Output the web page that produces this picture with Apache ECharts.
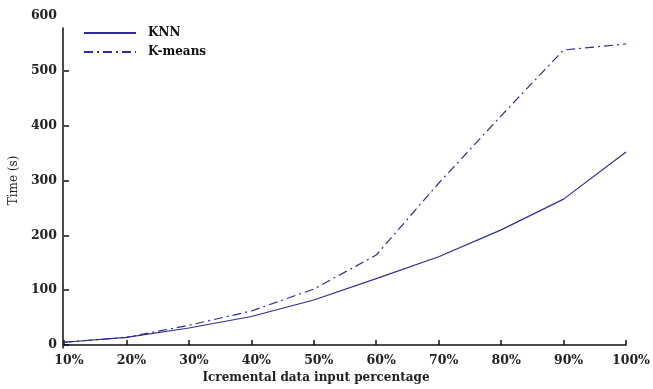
<!DOCTYPE html>
<html>
<head>
<meta charset="utf-8">
<script src="https://cdn.jsdelivr.net/npm/echarts@6/dist/echarts.min.js"></script>
<style>html,body{margin:0;padding:0;background:#fff}#c{width:653px;height:389px}</style>
</head>
<body>
<div id="c"></div>
<script>
const categories = ['10%','20%','30%','40%','50%','60%','70%','80%','90%','100%'];
const knn = [5, 14, 31, 52, 82, 121, 161, 210, 266, 352];
const kmeans = [5, 14, 36, 62, 102, 164, 295, 418, 538, 549];
const yTicks = [0, 100, 200, 300, 400, 500, 600];
const lineColor = '#2e2e96';
const font = 'DejaVu Serif';

const chart = echarts.init(document.getElementById('c'));
chart.setOption({
  animation: false,
  backgroundColor: '#fff',
  grid: [
    {left: 63, right: 26, top: 16, bottom: 41},
    {left: 63, right: 26, top: 28, bottom: 41}
  ],
  legend: {
    orient: 'vertical', left: 83, top: 27, padding: 0, itemWidth: 52, itemHeight: 14, itemGap: 7,
    itemStyle: {opacity: 0},
    textStyle: {fontFamily: font, fontWeight: 'bold', fontSize: 12, color: '#111', padding: [0,0,0,7]},
    data: ['KNN', 'K-means']
  },
  xAxis: [{
    type: 'category', data: categories, boundaryGap: false, gridIndex: 0,
    axisLine: {lineStyle: {color: '#111', width: 1.5}},
    axisTick: {inside: true, length: 5, lineStyle: {color: '#111', width: 1.5}},
    axisLabel: {fontFamily: font, fontWeight: 'bold', fontSize: 12.5, color: '#222', margin: 9, padding: [0,0,0,10]},
    name: 'Icremental data input percentage', nameLocation: 'middle', nameGap: 27,
    nameTextStyle: {fontFamily: font, fontWeight: 'bold', fontSize: 12, color: '#222', padding: [0,58,0,0]}
  }, {
    type: 'category', data: categories, boundaryGap: false, gridIndex: 1, show: false
  }],
  yAxis: [{
    type: 'value', min: 0, max: 600, interval: 100, gridIndex: 0,
    axisLine: {show: false},
    splitLine: {show: false},
    axisTick: {show: true, inside: true, length: 5, lineStyle: {color: '#111', width: 1.5},
      customValues: yTicks.slice(0, 6)},
    axisLabel: {fontFamily: font, fontWeight: 'bold', fontSize: 12.5, color: '#222', margin: 7, customValues: yTicks},
    name: 'Time (s)', nameLocation: 'middle', nameGap: 34,
    nameTextStyle: {fontFamily: font, fontSize: 12, color: '#222'}
  }, {
    type: 'value', min: 0, max: 1, gridIndex: 1,
    axisLine: {show: true, lineStyle: {color: '#111', width: 1.5}},
    axisTick: {show: false}, axisLabel: {show: false}, splitLine: {show: false}
  }],
  series: [{
    name: 'KNN', type: 'line', data: knn, symbol: 'none',
    lineStyle: {color: lineColor, width: 1.2}, itemStyle: {color: lineColor}
  }, {
    name: 'K-means', type: 'line', data: kmeans, symbol: 'none',
    lineStyle: {color: lineColor, width: 1.2, type: [9, 4, 2, 4]}, itemStyle: {color: lineColor}
  }]
});
</script>
</body>
</html>
